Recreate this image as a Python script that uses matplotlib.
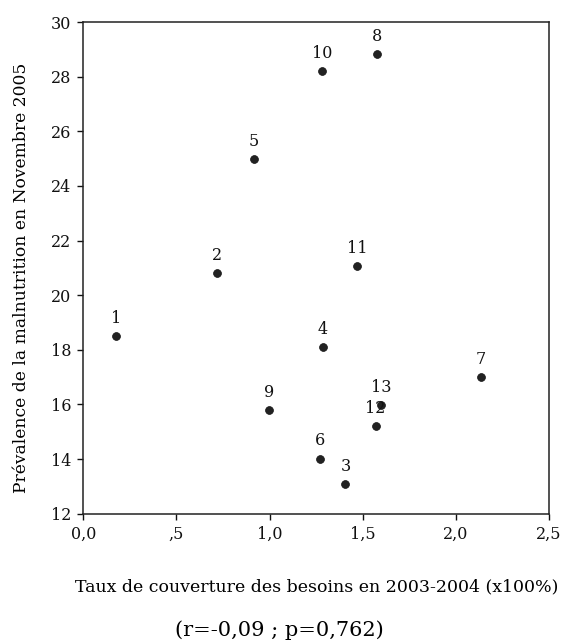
import matplotlib
matplotlib.use("Agg")
import matplotlib.pyplot as plt

# Données
ids = ["1", "2", "3", "4", "5", "6", "7", "8", "9", "10", "11", "12", "13"]
couverture = [0.177, 0.72, 1.407, 1.286, 0.916, 1.273, 2.135, 1.575, 0.995, 1.282, 1.468, 1.569, 1.598]
prevalence = [18.49, 20.8, 13.1, 18.12, 25.0, 14.02, 16.99, 28.82, 15.8, 28.21, 21.08, 15.22, 15.99]

x_ticks = [0.0, 0.5, 1.0, 1.5, 2.0, 2.5]
x_ticklabels = ["0,0", ",5", "1,0", "1,5", "2,0", "2,5"]
y_ticks = [12, 14, 16, 18, 20, 22, 24, 26, 28, 30]

plt.rcParams["font.family"] = ["DejaVu Serif"]

fig = plt.figure(figsize=(5.68, 6.41), dpi=100)
ax = fig.add_axes([0.1467, 0.1986, 0.82, 0.767])

ax.scatter(couverture, prevalence, s=32, color="#222222", edgecolors="#111111",
           linewidths=0.5, zorder=3)
for lab, xv, yv in zip(ids, couverture, prevalence):
    ax.annotate(lab, (xv, yv), xytext=(0, 6.5), textcoords="offset points",
                ha="center", va="bottom", fontsize=11.5, color="#111111")

ax.set_xlim(0, 2.5)
ax.set_ylim(12, 30)
ax.set_xticks(x_ticks)
ax.set_xticklabels(x_ticklabels)
ax.set_yticks(y_ticks)
ax.tick_params(direction="out", length=4, width=1, pad=4.5, labelsize=11.5, colors="#111111")
for sp in ax.spines.values():
    sp.set_linewidth(1.1)
    sp.set_color("#222222")

fig.text(22 / 568, 1 - 278 / 641, "Prévalence de la malnutrition en Novembre 2005",
         rotation=90, ha="center", va="center", fontsize=12.3)
fig.text(317 / 568, 1 - 587 / 641, "Taux de couverture des besoins en 2003-2004 (x100%)",
         ha="center", va="center", fontsize=12.5)
fig.text(279 / 568, 1 - 630 / 641, "(r=-0,09 ; p=0,762)", ha="center", va="center", fontsize=15)

fig.savefig("out.png", dpi=100)
